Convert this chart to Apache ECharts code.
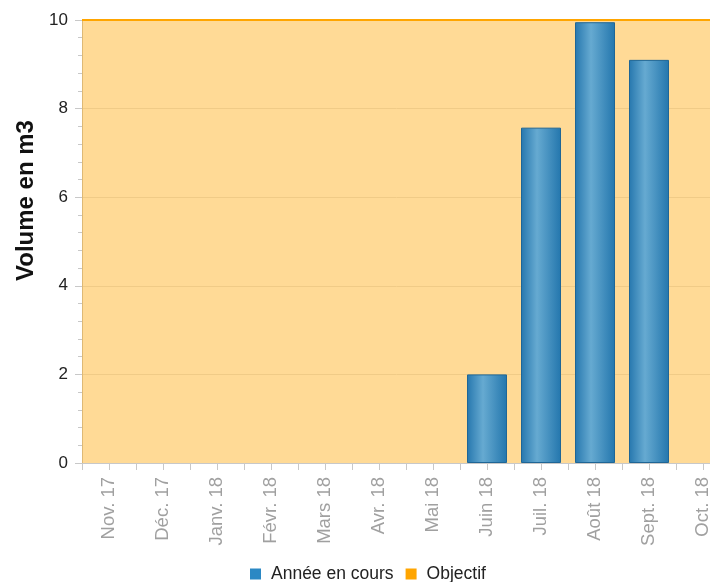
<!DOCTYPE html>
<html>
<head>
<meta charset="utf-8">
<script src="https://cdn.jsdelivr.net/npm/echarts@6/dist/echarts.min.js"></script>
<style>html,body{margin:0;padding:0;background:#fff}#c{width:710px;height:582px}</style>
</head>
<body>
<div id="c"></div>
<script>
var months = ['Nov. 17','Déc. 17','Janv. 18','Févr. 18','Mars 18','Avr. 18','Mai 18','Juin 18','Juil. 18','Août 18','Sept. 18','Oct. 18'];
var currentYear = [null,null,null,null,null,null,null,2.0,7.57,9.95,9.1,null];
var objectif = [10,10,10,10,10,10,10,10,10,10,10,10];
var yTicks = [0,2,4,6,8,10];

var chart = echarts.init(document.getElementById('c'));
var font = '"Liberation Sans", Arial, sans-serif';
chart.setOption({
  animation: false,
  textStyle: {fontFamily: font},
  grid: {left: 82, width: 648, top: 20, bottom: 119, outerBoundsMode: 'none', containLabel: false},
  legend: {
    bottom: -6, left: 245, itemWidth: 11, itemHeight: 11, itemGap: 12,
    icon: 'rect',
    textStyle: {fontSize: 17.5, color: '#222', fontFamily: font, padding: [0,0,0,5]},
    data: [
      {name: 'Année en cours', itemStyle: {color: '#2B88C4', borderWidth: 0}},
      {name: 'Objectif', itemStyle: {color: '#FFA500', borderWidth: 0}}
    ]
  },
  xAxis: [
    {
      type: 'category', data: months, position: 'bottom', boundaryGap: true,
      axisLine: {lineStyle: {color: '#C8C8C8'}},
      axisTick: {show: true, alignWithLabel: false, interval: 0, length: 7, lineStyle: {color: '#C8C8C8'}},
      axisLabel: {rotate: 90, interval: 0, color: '#A0A0A0', fontSize: 18.5, margin: 14, fontFamily: font},
      splitLine: {show: false}
    },
    {
      type: 'category', data: months, position: 'bottom', offset: 0, boundaryGap: true,
      axisLine: {show: true, lineStyle: {color: '#C8C8C8'}},
      axisTick: {show: true, alignWithLabel: true, interval: 0, length: 7, lineStyle: {color: '#C8C8C8'}},
      axisLabel: {show: false},
      splitLine: {show: false}
    }
  ],
  yAxis: {
    type: 'value', min: yTicks[0], max: yTicks[yTicks.length-1], interval: 2,
    name: 'Volume en m3', nameLocation: 'middle', nameGap: 44, nameRotate: 90,
    nameTextStyle: {fontSize: 24, fontWeight: 'bold', color: '#111', fontFamily: font, padding: [0,0,0,82]},
    axisLine: {show: true, lineStyle: {color: '#C8C8C8'}},
    axisTick: {show: true, length: 7, lineStyle: {color: '#C8C8C8'}},
    minorTick: {show: true, splitNumber: 5, length: 4, lineStyle: {color: '#C8C8C8'}},
    axisLabel: {color: '#222', fontSize: 17, margin: 14, fontFamily: font},
    splitLine: {show: true, lineStyle: {color: '#E6E6E6'}}
  },
  series: [
    {
      name: 'Objectif', type: 'line', xAxisIndex: 1, data: objectif,
      symbol: 'none', z: 1,
      lineStyle: {color: '#FFA500', width: 2},
      itemStyle: {color: '#FFA500'},
      markArea: {
        silent: true,
        itemStyle: {color: 'rgba(255,165,0,0.41)', opacity: 1},
        data: [[{yAxis: yTicks[0]}, {yAxis: objectif[0]}]]
      },
      markLine: {
        silent: true, symbol: 'none', label: {show: false},
        lineStyle: {color: '#FFA500', width: 2, type: 'solid'},
        data: [{yAxis: objectif[0]}]
      }
    },
    {
      name: 'Année en cours', type: 'bar', xAxisIndex: 0, data: currentYear,
      barWidth: 40, z: 3,
      itemStyle: {
        color: new echarts.graphic.LinearGradient(0,0,1,0,[
          {offset: 0, color: '#2677AE'},
          {offset: 0.4, color: '#66AAD1'},
          {offset: 1, color: '#2376AD'}
        ]),
        borderColor: '#1F6696', borderWidth: 1
      }
    }
  ]
});
</script>
</body>
</html>
